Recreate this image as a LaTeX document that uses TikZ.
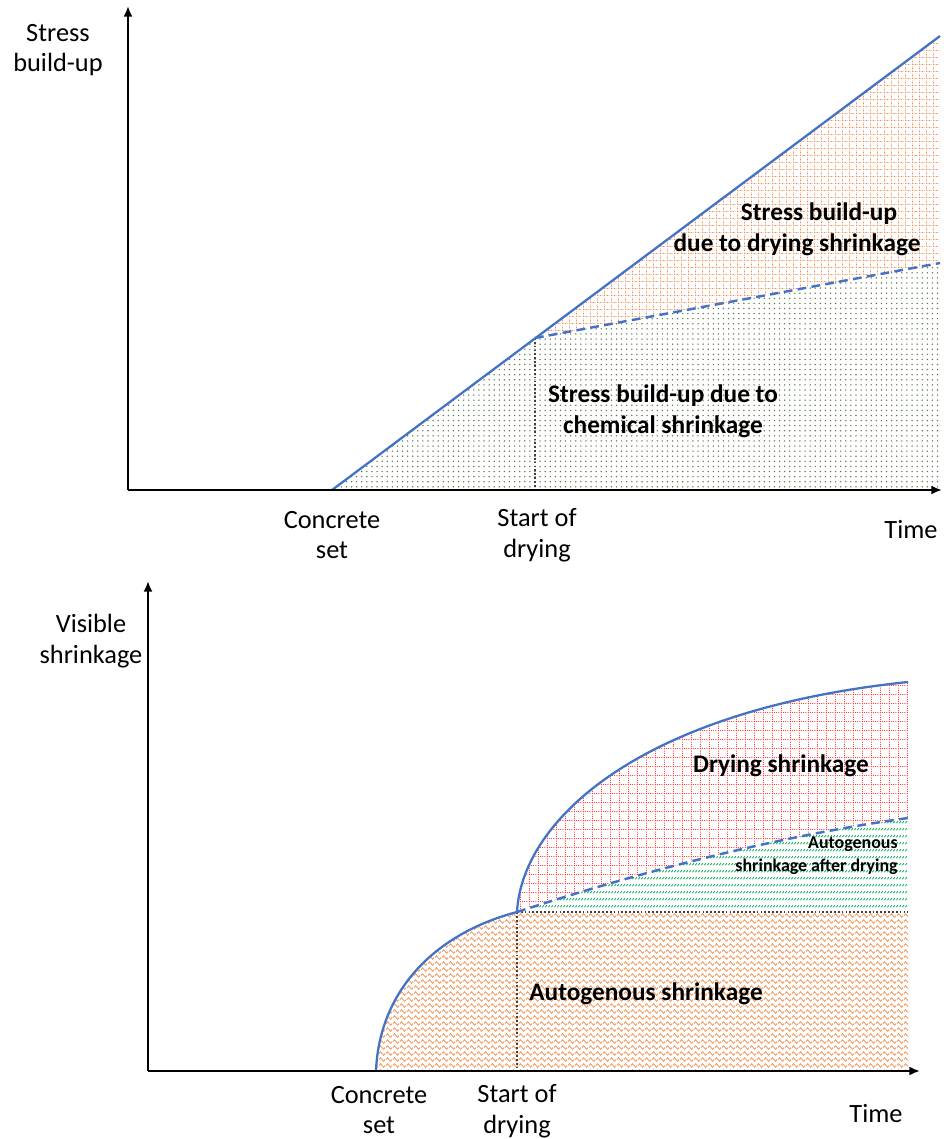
\documentclass[tikz,border=0pt]{standalone}
\usepackage{fontspec}
\setmainfont{Carlito}
\usetikzlibrary{patterns,patterns.meta,arrows.meta}
\definecolor{lblue}{HTML}{4472C4}
\definecolor{lorange}{HTML}{ED7D31}
\definecolor{lgreen}{HTML}{00B050}
\definecolor{dotgreen}{HTML}{5E7A4A}
\tikzdeclarepattern{
  name=wavy, type=uncolored,
  bounding box={(0,0) and (4pt,3.4pt)},
  tile size={(4pt,3.4pt)},
  code={\draw[line width=0.5pt] (0,1.4pt) sin (1pt,2.4pt) cos (2pt,1.4pt) sin (3pt,0.4pt) cos (4pt,1.4pt);}
}
\tikzdeclarepattern{
  name=dgridA, type=uncolored,
  bounding box={(0,0) and (4pt,4pt)},
  tile size={(4pt,4pt)},
  code={\draw[line width=0.55pt, dash pattern=on 0.5pt off 0.5pt] (0,0.3pt)--(4pt,0.3pt) (0.3pt,0)--(0.3pt,4pt);}
}
\tikzdeclarepattern{
  name=dgridB, type=uncolored,
  bounding box={(0,0) and (5.2pt,5.2pt)},
  tile size={(5.2pt,5.2pt)},
  code={\draw[line width=0.6pt, dash pattern=on 0.65pt off 0.65pt] (0,0.3pt)--(5.2pt,0.3pt) (0.3pt,0)--(0.3pt,5.2pt);}
}
\tikzdeclarepattern{
  name=shorthatch, type=uncolored,
  bounding box={(0,0) and (1.8pt,4pt)},
  tile size={(1.8pt,4pt)},
  code={\draw[line width=0.55pt] (0.2pt,0.6pt)--(1.4pt,1.7pt);}
}
\tikzset{
  axis/.style={line width=1.1pt, -{Latex[length=6pt,width=5pt]}},
  curve/.style={lblue, line width=1.3pt},
  dcurve/.style={lblue, line width=1.4pt, dash pattern=on 5pt off 3pt},
  guide/.style={black!75, line width=1pt, dash pattern=on 1pt off 1.2pt},
  lbl/.style={font=\fontsize{15}{17.5}\selectfont, align=center, inner sep=0pt},
  blbl/.style={font=\bfseries\fontsize{14.4}{17.6}\selectfont, align=center, inner sep=0pt},
  slbl/.style={font=\bfseries\fontsize{10.2}{13}\selectfont, align=right, inner sep=0pt},
}
\begin{document}
\begin{tikzpicture}[x=0.02cm, y=-0.02cm]
\useasboundingbox (0,0) rectangle (943,1139);
% ---------- top chart ----------
\coordinate (O1) at (128,490);
\coordinate (Y1) at (128,6);
\coordinate (X1) at (942,490);
\coordinate (CS1) at (332,490);
\coordinate (SD1) at (535,338);
\coordinate (E1) at (940,36);
\coordinate (D1) at (940,263);
\coordinate (B1) at (940,490);
\coordinate (SDb1) at (535,490);
\fill[pattern=dgridA, pattern color=lorange!85] (SD1) -- (E1) -- (D1) -- cycle;
\fill[pattern={Dots[distance=2.9pt,radius=0.45pt]}, pattern color=dotgreen] (CS1) -- (SD1) -- (D1) -- (B1) -- cycle;
\draw[guide] (SD1) -- (SDb1);
\draw[dcurve] (SD1) -- (D1);
\draw[curve] (CS1) -- (E1);
\draw[axis] (O1) -- (X1);
\draw[axis] (O1) -- (Y1);
\node[lbl] (ylab1) at (58,50) {Stress\\build-up};
\node[lbl] (cs1) at (332,535) {Concrete\\set};
\node[lbl] (sd1) at (537,535) {Start of\\drying};
\node[lbl] (t1) at (911,530) {Time};
\node[blbl] (dry1a) at (819,214) {Stress build-up};
\node[blbl] (dry1b) at (797,245) {due to drying shrinkage};
\node[blbl] (chem1) at (663,411) {Stress build-up due to\\chemical shrinkage};
% ---------- bottom chart ----------
\coordinate (O2) at (148,1071);
\coordinate (Y2) at (148,581);
\coordinate (X2) at (920,1071);
\coordinate (CS2) at (376,1071);
\coordinate (SD2) at (517,912);
\coordinate (E2) at (908,682);
\coordinate (D2) at (908,818);
\coordinate (H2) at (908,912);
\coordinate (B2) at (908,1071);
\coordinate (SDb2) at (517,1071);
\fill[pattern=wavy, pattern color=lorange!80] (CS2) .. controls (379,995) and (430,935) .. (SD2) -- (H2) -- (B2) -- cycle;
\fill[pattern=dgridB, pattern color=red!75] (SD2) .. controls (522,820) and (640,710) .. (E2) -- (D2) .. controls (750,840) and (600,885) .. (SD2) -- cycle;
\fill[pattern=shorthatch, pattern color=lgreen] (SD2) .. controls (600,885) and (750,840) .. (D2) -- (H2) -- cycle;
\draw[guide] (SD2) -- (SDb2);
\draw[guide] (SD2) -- (H2);
\draw[dcurve] (SD2) .. controls (600,885) and (750,840) .. (D2);
\draw[curve] (CS2) .. controls (379,995) and (430,935) .. (SD2);
\draw[curve] (SD2) .. controls (522,820) and (640,710) .. (E2);
\draw[axis] (O2) -- (X2);
\draw[axis] (O2) -- (Y2);
\node[lbl] (ylab2) at (91,641) {Visible\\shrinkage};
\node[lbl] (cs2) at (379,1110) {Concrete\\set};
\node[lbl] (sd2) at (517,1111) {Start of\\drying};
\node[lbl] (t2) at (876,1114) {Time};
\node[blbl] (dry2) at (781,766) {Drying shrinkage};
\node[slbl, anchor=east] (aut2) at (898,856) {Autogenous\\shrinkage after drying};
\node[blbl] (aut1) at (646,994) {Autogenous shrinkage};
\end{tikzpicture}
\end{document}
